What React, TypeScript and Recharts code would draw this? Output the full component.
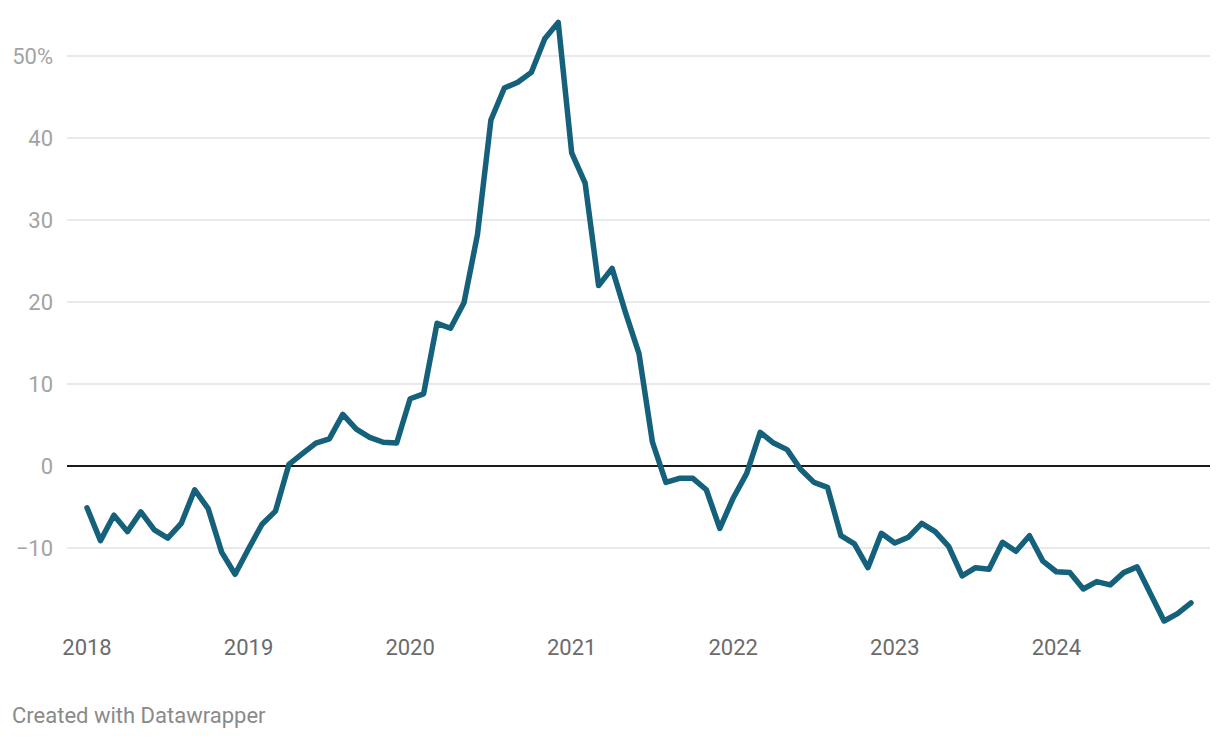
import React from "react";
import { LineChart, Line, XAxis, YAxis, ReferenceLine } from "recharts";

// monthly change, Jan 2018 .. Nov 2024 (%)
const values = [
  -5.1, -9.1, -6.0, -8.0, -5.6, -7.8, -8.8, -7.0, -2.9, -5.2, -10.5, -13.2,
  -10.1, -7.1, -5.5, 0.2, 1.5, 2.8, 3.3, 6.3, 4.5, 3.5, 2.9, 2.8,
  8.2, 8.8, 17.4, 16.8, 19.9, 28.2, 42.2, 46.1, 46.8, 48.0, 52.1, 54.1,
  38.2, 34.5, 22.0, 24.1, 18.7, 13.7, 2.9, -2.0, -1.5, -1.5, -2.9, -7.6,
  -3.9, -0.9, 4.1, 2.8, 2.0, -0.4, -2.0, -2.6, -8.5, -9.5, -12.4, -8.2,
  -9.4, -8.7, -7.0, -8.0, -9.8, -13.4, -12.4, -12.6, -9.3, -10.4, -8.5, -11.6,
  -12.9, -13.0, -15.0, -14.1, -14.5, -13.0, -12.3, -15.6, -18.9, -18.0, -16.7,
];
const yearLabels = ["2018", "2019", "2020", "2021", "2022", "2023", "2024"];
const yTicks = [-10, 0, 10, 20, 30, 40, 50];

const data = values.map((v, i) => ({ m: i, v }));
const xTicks = yearLabels.map((_, i) => i * 12);

const fmtY = (v: number) => {
  if (v === 50) return "50%";
  if (v < 0) return "\u2212" + Math.abs(v);
  return String(v);
};

export default function App() {
  return (
    <div
      style={{
        position: "absolute",
        left: 0,
        top: 0,
        width: 1220,
        height: 738,
        background: "#fff",
        fontFamily: "Roboto, sans-serif",
      }}
    >
      <LineChart
        width={1220}
        height={680}
        data={data}
        margin={{ top: 15, right: 10, bottom: 10, left: 0 }}
      >
        <XAxis
          dataKey="m"
          type="number"
          domain={[0, 82]}
          ticks={xTicks}
          tickFormatter={(v: number) => yearLabels[v / 12]}
          padding={{ left: 20, right: 19 }}
          axisLine={false}
          tickLine={false}
          tickSize={0}
          tickMargin={9}
          height={40}
          tick={{ fill: "#6b6b6b", fontSize: 22, fontFamily: "Roboto" }}
        />
        <YAxis
          type="number"
          domain={[-20, 55]}
          ticks={yTicks}
          tickFormatter={fmtY}
          axisLine={false}
          tickLine={false}
          tickSize={0}
          tickMargin={14}
          width={67}
          tick={{ fill: "#a3a3a3", fontSize: 22, fontFamily: "Roboto" }}
        />
        {yTicks
          .filter((t) => t !== 0)
          .map((t) => (
            <ReferenceLine key={t} y={t} stroke="#e2e2e2" strokeWidth={1.5} />
          ))}
        <ReferenceLine y={0} stroke="#1a1a1a" strokeWidth={2} />
        <Line
          type="linear"
          dataKey="v"
          stroke="#15607a"
          strokeWidth={5.5}
          strokeLinejoin="round"
          strokeLinecap="round"
          dot={false}
          activeDot={false}
          isAnimationActive={false}
        />
      </LineChart>
      <div
        style={{
          position: "absolute",
          left: 12,
          top: 705,
          fontSize: 22,
          lineHeight: "21px",
          color: "#8a8a8a",
          fontFamily: "Roboto, sans-serif",
        }}
      >
        Created with Datawrapper
      </div>
    </div>
  );
}
